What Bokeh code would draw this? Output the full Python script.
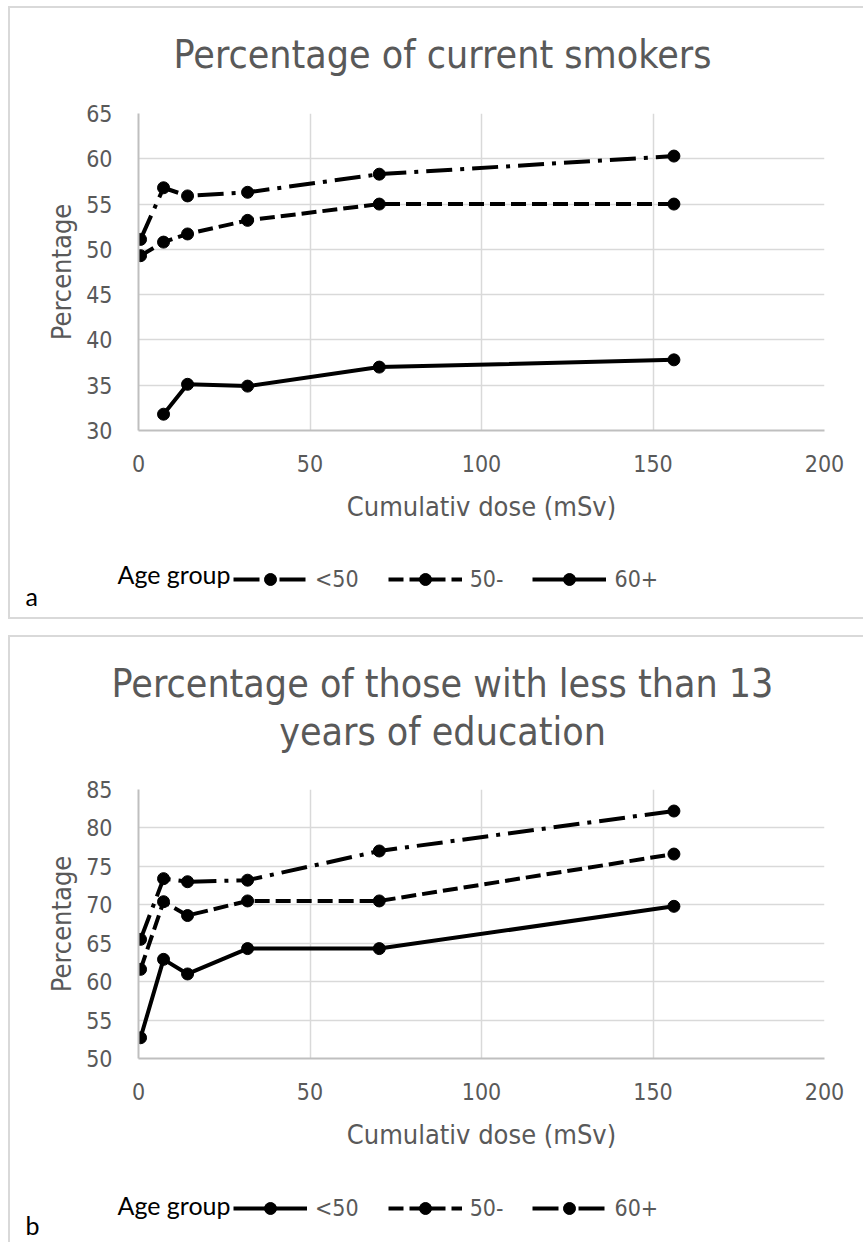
from bokeh.plotting import figure
from bokeh.models import Range1d, SingleIntervalTicker, Legend, LegendItem, Label, Plot
from bokeh.layouts import column
from bokeh.embed import file_html
from bokeh.resources import INLINE

# ---------------- data ----------------
dose = [0.6, 7.3, 14.3, 31.8, 70.2, 156.1]
age_groups = ["<50", "50-", "60+"]

# a) percentage of current smokers
smokers_lt50 = [51.1, 56.8, 55.9, 56.3, 58.3, 60.3]
smokers_50 = [49.3, 50.8, 51.7, 53.2, 55.0, 55.0]
smokers_60 = [float("nan"), 31.8, 35.1, 34.9, 37.0, 37.8]

# b) percentage with less than 13 years of education
edu_lt50 = [52.7, 62.9, 61.0, 64.3, 64.3, 69.8]
edu_50 = [61.6, 70.4, 68.6, 70.5, 70.5, 76.6]
edu_60 = [65.5, 73.4, 73.0, 73.2, 77.0, 82.2]

x_tick_interval = 50
y_tick_interval = 5

# ---------------- style ----------------
GRAY = "#595959"
GRID = "#d9d9d9"
AXIS = "#bfbfbf"
FONT = "DejaVu Sans Condensed, DejaVu Sans"
LFONT = "Lato"
DASHES = {"dashdot": "26 8 4 8", "dashed": "15 6", "solid": "solid"}
W = 853
HAS_FA = "frame_align" in Plot.properties()


def no_align(p):
    if HAS_FA:
        p.frame_align = False
    return p


def strip(height):
    """A figure whose frame is the whole canvas; y runs downwards in pixels."""
    s = figure(width=W, height=height, x_range=Range1d(0, W), y_range=Range1d(height, 0),
               x_axis_type=None, y_axis_type=None, output_backend="svg",
               toolbar_location=None, title=None, min_border=0,
               min_border_left=0, min_border_right=0, min_border_top=0, min_border_bottom=0)
    s.outline_line_color = None
    s.xgrid.visible = False
    s.ygrid.visible = False
    return no_align(s)


def text(s, x, y, txt, font, size, color, align="left"):
    s.add_layout(Label(x=x, y=y, text=txt, text_align=align, text_baseline="middle",
                       text_font=font, text_font_size=size, text_color=color))


def title_strip(height, lines):
    s = strip(height)
    for txt, mid in lines:
        text(s, 432, mid, txt, FONT, "39px", GRAY, "center")
    return s


def chart(yr, series, height, top, frame_h):
    p = figure(width=W, height=height, x_range=Range1d(0, 200), y_range=Range1d(*yr),
               output_backend="svg", toolbar_location=None, title=None,
               min_border_left=128, min_border_right=39,
               min_border_top=top, min_border_bottom=height - top - frame_h)
    no_align(p)
    p.outline_line_color = None
    xt = SingleIntervalTicker(interval=x_tick_interval)
    yt = SingleIntervalTicker(interval=y_tick_interval)
    p.xaxis.ticker = xt
    p.yaxis.ticker = yt
    p.xgrid.ticker = xt
    p.ygrid.ticker = yt
    for g in (p.xgrid, p.ygrid):
        g.grid_line_color = GRID
        g.grid_line_width = 1.5
    for ax in (p.xaxis[0], p.yaxis[0]):
        ax.axis_line_color = AXIS
        ax.axis_line_width = 2
        ax.major_tick_line_color = None
        ax.minor_tick_line_color = None
        ax.major_label_text_font = FONT
        ax.major_label_text_font_size = "23px"
        ax.major_label_text_color = GRAY
        ax.axis_label_text_font = FONT
        ax.axis_label_text_font_size = "27px"
        ax.axis_label_text_color = GRAY
        ax.axis_label_text_font_style = "normal"
    p.xaxis.axis_label = "Cumulativ dose (mSv)"
    p.yaxis.axis_label = "Percentage"
    p.xaxis.major_label_standoff = 18
    p.xaxis.axis_label_standoff = 16
    p.yaxis.major_label_standoff = 20
    p.yaxis.axis_label_standoff = 6
    for name, vals, dash in series:
        p.line(dose, vals, line_color="black", line_width=4, line_dash=DASHES[dash])
        p.scatter(dose, vals, size=12, fill_color="black", line_color="black")
    return p


def legend_strip(height, series, row_center, agegroup_mid, letter, letter_mid):
    s = strip(height)
    items = []
    for name, vals, dash in series:
        # legend keys: the same series, hidden here (they are drawn in the chart above)
        l = s.line(dose, vals, line_color="black", line_width=4, line_dash=DASHES[dash],
                   visible=False)
        m = s.scatter(dose, vals, size=12, fill_color="black", line_color="black",
                      visible=False)
        items.append(LegendItem(label=name, renderers=[l, m]))
    leg = Legend(items=items, orientation="horizontal",
                 location=(223, height - row_center - 15),
                 padding=0, margin=0, spacing=29, glyph_width=74, glyph_height=30,
                 label_standoff=8, label_text_font=FONT, label_text_font_size="23px",
                 label_text_color=GRAY, border_line_color=None, background_fill_alpha=0,
                 inactive_fill_alpha=0)
    s.add_layout(leg, "center")
    text(s, 107, agegroup_mid, "Age group", LFONT, "25px", "black")
    text(s, 15, letter_mid, letter, LFONT, "25px", "black")
    return s


series_a = [(age_groups[0], smokers_lt50, "dashdot"),
            (age_groups[1], smokers_50, "dashed"),
            (age_groups[2], smokers_60, "solid")]
series_b = [(age_groups[0], edu_lt50, "solid"),
            (age_groups[1], edu_50, "dashed"),
            (age_groups[2], edu_60, "dashdot")]

border = "2px solid #d9d9d9"
panel_a = column(
    title_strip(80, [("Percentage of current smokers", 46)]),
    chart((30, 65), series_a, 442, 25, 317),
    legend_strip(87, series_a, 48.5, 43, "a", 65),
    spacing=0,
    styles={"border-top": border, "border-left": border, "border-bottom": border},
)
panel_b = column(
    title_strip(125, [("Percentage of those with less than 13", 46), ("years of education", 94)]),
    chart((50, 85), series_b, 398, 27, 269),
    legend_strip(82, series_b, 48.3, 44.5, "b", 64),
    spacing=0,
    styles={"border-top": border, "border-left": border},
)

layout = column(panel_a, panel_b, spacing=16, styles={"margin-left": "8px", "margin-top": "6px"})
open("out.html", "w").write(file_html(layout, INLINE))
